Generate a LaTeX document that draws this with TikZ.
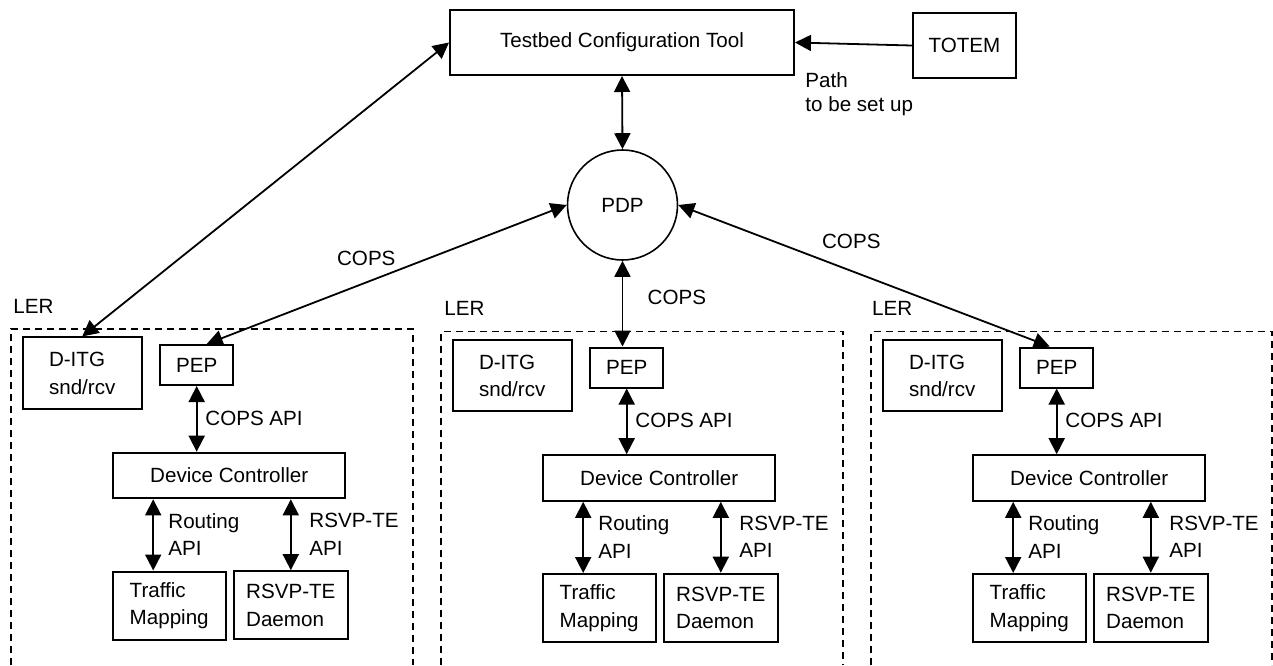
\documentclass[tikz,border=0pt]{standalone}
\usepackage{fontspec}
\setmainfont{Liberation Sans}
\usetikzlibrary{arrows.meta}

\begin{document}
\begin{tikzpicture}[x=0.5pt, y=-0.5pt,
        font=\fontsize{10.3}{13.7}\selectfont,
        >={Triangle[length=8pt,width=8pt]},
        box/.style={draw, line width=1pt, inner sep=0pt, align=left},
        ditgbox/.style={box, minimum width=59.5pt, minimum height=35.75pt},
        pepbox/.style={box, minimum width=36.7pt, minimum height=20pt},
        ctrlbox/.style={box, minimum width=115.8pt, minimum height=22.8pt},
        lowbox/.style={box, minimum width=56.7pt, minimum height=34pt},
        conn/.style={line width=0.9pt},
        ler/.style={line width=0.75pt, dash pattern=on 3.7pt off 2.3pt},
        tag/.style={anchor=base west, inner sep=0pt}]
        \useasboundingbox (0,0) rectangle (1273,665);

        % Configuration tool, TOTEM and PDP
        \node [box, align=center, minimum width=172pt, minimum height=32.5pt] (tool) at (622,42.5) {Testbed Configuration Tool};
        \node [box, minimum width=51.5pt, minimum height=32.5pt] (totem) at (964.5,45.5) {TOTEM};
        \node [draw, circle, line width=0.8pt, minimum size=55pt, inner sep=0pt] (pdp) at (622.5,205) {PDP};
        \node [anchor=north west, inner sep=0pt, align=left, font=\fontsize{10.3}{11.9}\selectfont] (path) at (805,72) {Path\\to be set up};

        % LER 1
        \draw [ler] (11,665) -- (11,329) -- (413,329) -- (413,665);
        \node [tag] (ler1) at (13,313) {LER};
        \node [ditgbox] (ditg1) at (82.2,373.2) {D-ITG\\snd/rcv};
        \node [pepbox] (pep1) at (196.7,365) {PEP};
        \node [ctrlbox, align=center] (dc1) at (229.2,475.5) {Device Controller};
        \node [lowbox] (tm1) at (169.2,605.5) {Traffic\\Mapping};
        \node [lowbox] (rd1) at (290.8,605.2) {RSVP-TE\\Daemon};
        \draw [<->, conn] (pep1.south) -- (pep1.south |- dc1.north);
        \draw [<->, conn] ([xshift=-8pt]tm1.north) -- ([xshift=-8pt]tm1.north |- dc1.south);
        \draw [<->, conn] (rd1.north) -- (rd1.north |- dc1.south);
        \node [tag] (capi1) at (205,425) {COPS API};
        \node [tag, anchor=north west, align=left] (rapi1) at (168,513) {Routing\\API};
        \node [tag, anchor=north west, align=left] (tapi1) at (309,513) {RSVP-TE\\API};

        % LER 2
        \draw [ler] (441,665) -- (441,331.5) -- (843,331.5) -- (843,665);
        \node [tag] (ler2) at (444,315.7) {LER};
        \node [ditgbox] (ditg2) at (512.2,375.7) {D-ITG\\snd/rcv};
        \node [pepbox] (pep2) at (626.7,367.5) {PEP};
        \node [ctrlbox, align=center] (dc2) at (659.2,478) {Device Controller};
        \node [lowbox] (tm2) at (599.2,608) {Traffic\\Mapping};
        \node [lowbox] (rd2) at (720.8,607.7) {RSVP-TE\\Daemon};
        \draw [<->, conn] (pep2.south) -- (pep2.south |- dc2.north);
        \draw [<->, conn] ([xshift=-8pt]tm2.north) -- ([xshift=-8pt]tm2.north |- dc2.south);
        \draw [<->, conn] (rd2.north) -- (rd2.north |- dc2.south);
        \node [tag] (capi2) at (635,427.5) {COPS API};
        \node [tag, anchor=north west, align=left] (rapi2) at (598,515.5) {Routing\\API};
        \node [tag, anchor=north west, align=left] (tapi2) at (739,515.5) {RSVP-TE\\API};

        % LER 3
        \draw [ler] (871,665) -- (871,331.5) -- (1272,331.5) -- (1272,665);
        \node [tag] (ler3) at (871.7,315.7) {LER};
        \node [ditgbox] (ditg3) at (942.2,375.7) {D-ITG\\snd/rcv};
        \node [pepbox] (pep3) at (1056.7,367.5) {PEP};
        \node [ctrlbox, align=center] (dc3) at (1089.2,478) {Device Controller};
        \node [lowbox] (tm3) at (1029.2,608) {Traffic\\Mapping};
        \node [lowbox] (rd3) at (1150.8,607.7) {RSVP-TE\\Daemon};
        \draw [<->, conn] (pep3.south) -- (pep3.south |- dc3.north);
        \draw [<->, conn] ([xshift=-8pt]tm3.north) -- ([xshift=-8pt]tm3.north |- dc3.south);
        \draw [<->, conn] (rd3.north) -- (rd3.north |- dc3.south);
        \node [tag] (capi3) at (1065,427.5) {COPS API};
        \node [tag, anchor=north west, align=left] (rapi3) at (1028,515.5) {Routing\\API};
        \node [tag, anchor=north west, align=left] (tapi3) at (1169,515.5) {RSVP-TE\\API};

        % Connections to the tool and the PDP
        \draw [->, conn] (totem.west) -- (tool.east);
        \draw [<->, conn] (tool.west) -- (ditg1.north);
        \draw [<->, conn] (tool.south) -- (pdp.north);
        \draw [<->, conn] (pdp.west) -- ([xshift=5pt]pep1.north);
        \draw [<->, conn] (pdp.south) -- (pdp.south |- pep2.north);
        \draw [<->, conn] (pdp.east) -- ([xshift=-3.5pt]pep3.north);
        \node [tag] (cops1) at (336.7,265.7) {COPS};
        \node [tag] (cops2) at (647.3,304) {COPS};
        \node [tag] (cops3) at (821.7,248.3) {COPS};
    \end{tikzpicture}
\end{document}
